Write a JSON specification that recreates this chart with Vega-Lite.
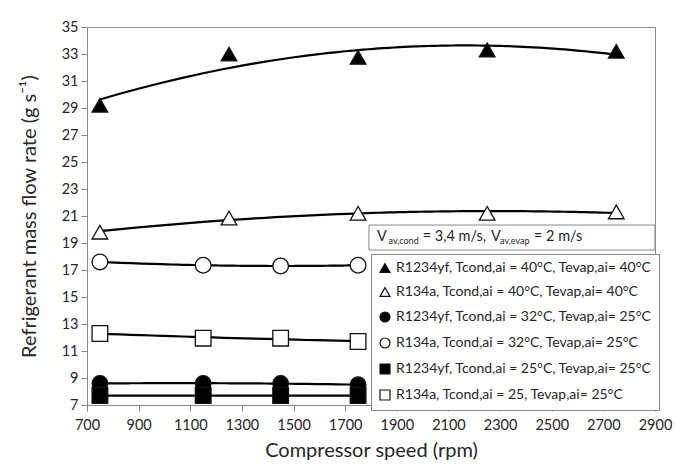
{
  "$schema": "https://vega.github.io/schema/vega-lite/v6.json",
  "autosize": "none",
  "width": 568,
  "height": 378,
  "padding": {"left": 87, "top": 27, "right": 22, "bottom": 67},
  "background": "white",
  "config": {
    "font": "Lato",
    "view": {"stroke": "#898989", "strokeWidth": 1},
    "axis": {
      "domainColor": "#898989",
      "tickColor": "#898989",
      "grid": false,
      "labelFont": "Lato",
      "labelFontSize": 14.5,
      "labelColor": "#262626",
      "labelOverlap": false,
      "labelFlush": false,
      "titleFont": "Lato",
      "titleFontSize": 20,
      "titleFontWeight": "normal",
      "titleColor": "#262626",
      "tickSize": 6
    },
    "legend": {
      "strokeColor": "#898989",
      "fillColor": "white",
      "padding": 7,
      "labelFont": "Lato",
      "labelFontSize": 14,
      "labelColor": "#262626",
      "symbolSize": 100,
      "symbolStrokeWidth": 1.2,
      "rowPadding": 10,
      "labelOffset": 4,
      "labelLimit": 400
    }
  },
  "datasets": {
    "points": [
      {"series": "R1234yf, Tcond,ai = 40°C, Tevap,ai= 40°C", "rpm": 750, "flow": 29.2},
      {"series": "R1234yf, Tcond,ai = 40°C, Tevap,ai= 40°C", "rpm": 1250, "flow": 33.0},
      {"series": "R1234yf, Tcond,ai = 40°C, Tevap,ai= 40°C", "rpm": 1750, "flow": 32.75},
      {"series": "R1234yf, Tcond,ai = 40°C, Tevap,ai= 40°C", "rpm": 2250, "flow": 33.3},
      {"series": "R1234yf, Tcond,ai = 40°C, Tevap,ai= 40°C", "rpm": 2750, "flow": 33.2},
      {"series": "R134a, Tcond,ai = 40°C, Tevap,ai= 40°C", "rpm": 750, "flow": 19.8},
      {"series": "R134a, Tcond,ai = 40°C, Tevap,ai= 40°C", "rpm": 1250, "flow": 20.85},
      {"series": "R134a, Tcond,ai = 40°C, Tevap,ai= 40°C", "rpm": 1750, "flow": 21.2},
      {"series": "R134a, Tcond,ai = 40°C, Tevap,ai= 40°C", "rpm": 2250, "flow": 21.2},
      {"series": "R134a, Tcond,ai = 40°C, Tevap,ai= 40°C", "rpm": 2750, "flow": 21.3},
      {"series": "R1234yf, Tcond,ai = 32°C, Tevap,ai= 25°C", "rpm": 750, "flow": 8.6},
      {"series": "R1234yf, Tcond,ai = 32°C, Tevap,ai= 25°C", "rpm": 1150, "flow": 8.6},
      {"series": "R1234yf, Tcond,ai = 32°C, Tevap,ai= 25°C", "rpm": 1450, "flow": 8.6},
      {"series": "R1234yf, Tcond,ai = 32°C, Tevap,ai= 25°C", "rpm": 1750, "flow": 8.5},
      {"series": "R134a, Tcond,ai = 32°C, Tevap,ai= 25°C", "rpm": 750, "flow": 17.6},
      {"series": "R134a, Tcond,ai = 32°C, Tevap,ai= 25°C", "rpm": 1150, "flow": 17.35},
      {"series": "R134a, Tcond,ai = 32°C, Tevap,ai= 25°C", "rpm": 1450, "flow": 17.3},
      {"series": "R134a, Tcond,ai = 32°C, Tevap,ai= 25°C", "rpm": 1750, "flow": 17.35},
      {"series": "R1234yf, Tcond,ai = 25°C, Tevap,ai= 25°C", "rpm": 750, "flow": 7.7},
      {"series": "R1234yf, Tcond,ai = 25°C, Tevap,ai= 25°C", "rpm": 1150, "flow": 7.7},
      {"series": "R1234yf, Tcond,ai = 25°C, Tevap,ai= 25°C", "rpm": 1450, "flow": 7.7},
      {"series": "R1234yf, Tcond,ai = 25°C, Tevap,ai= 25°C", "rpm": 1750, "flow": 7.7},
      {"series": "R134a, Tcond,ai = 25, Tevap,ai= 25°C", "rpm": 750, "flow": 12.3},
      {"series": "R134a, Tcond,ai = 25, Tevap,ai= 25°C", "rpm": 1150, "flow": 11.95},
      {"series": "R134a, Tcond,ai = 25, Tevap,ai= 25°C", "rpm": 1450, "flow": 11.95},
      {"series": "R134a, Tcond,ai = 25, Tevap,ai= 25°C", "rpm": 1750, "flow": 11.7}
    ],
    "notebox": [
      {"rpm": 1792, "rpm2": 2900, "flow": 18.48, "flow2": 20.33}
    ],
    "notemain": [
      {"rpm": 1823, "flow": 19.44, "txt": "V"},
      {"rpm": 2000, "flow": 19.44, "txt": "= 3,4 m/s,"},
      {"rpm": 2265, "flow": 19.44, "txt": "V"},
      {"rpm": 2431, "flow": 19.44, "txt": "= 2 m/s"}
    ],
    "notesub": [
      {"rpm": 1868, "flow": 19.44, "txt": "av,cond"},
      {"rpm": 2300, "flow": 19.44, "txt": "av,evap"}
    ]
  },
  "encoding": {
    "x": {
      "field": "rpm",
      "type": "quantitative",
      "scale": {"domain": [700, 2900], "nice": false, "zero": false},
      "axis": {
        "values": [700, 900, 1100, 1300, 1500, 1700, 1900, 2100, 2300, 2500, 2700, 2900],
        "format": "d",
        "labelOverlap": false,
        "title": "Compressor speed (rpm)",
        "labelPadding": 7,
        "titlePadding": 9
      }
    },
    "y": {
      "field": "flow",
      "type": "quantitative",
      "scale": {"domain": [7, 35], "nice": false, "zero": false},
      "axis": {
        "values": [7, 9, 11, 13, 15, 17, 19, 21, 23, 25, 27, 29, 31, 33, 35],
        "format": "d",
        "labelOverlap": false,
        "title": "Refrigerant mass flow rate (g s⁻¹)",
        "labelPadding": 3,
        "titlePadding": 22
      }
    }
  },
  "layer": [
    {
      "data": {"name": "points"},
      "transform": [
        {"regression": "flow", "on": "rpm", "groupby": ["series"], "method": "poly", "order": 2}
      ],
      "mark": {"type": "line", "color": "black", "strokeWidth": 2.2},
      "encoding": {
        "detail": {"field": "series"}
      }
    },
    {
      "data": {"name": "points"},
      "mark": {"type": "point", "strokeWidth": 1.3, "opacity": 1, "size": 245},
      "encoding": {
        "shape": {
          "field": "series",
          "type": "nominal",
          "scale": {
            "domain": [
              "R1234yf, Tcond,ai = 40°C, Tevap,ai= 40°C",
              "R134a, Tcond,ai = 40°C, Tevap,ai= 40°C",
              "R1234yf, Tcond,ai = 32°C, Tevap,ai= 25°C",
              "R134a, Tcond,ai = 32°C, Tevap,ai= 25°C",
              "R1234yf, Tcond,ai = 25°C, Tevap,ai= 25°C",
              "R134a, Tcond,ai = 25, Tevap,ai= 25°C"
            ],
            "range": ["triangle-up", "triangle-up", "circle", "circle", "square", "square"]
          },
          "legend": {"title": null, "orient": "none", "legendX": 284, "legendY": 227}
        },
        "fill": {
          "field": "series",
          "type": "nominal",
          "scale": {
            "domain": [
              "R1234yf, Tcond,ai = 40°C, Tevap,ai= 40°C",
              "R134a, Tcond,ai = 40°C, Tevap,ai= 40°C",
              "R1234yf, Tcond,ai = 32°C, Tevap,ai= 25°C",
              "R134a, Tcond,ai = 32°C, Tevap,ai= 25°C",
              "R1234yf, Tcond,ai = 25°C, Tevap,ai= 25°C",
              "R134a, Tcond,ai = 25, Tevap,ai= 25°C"
            ],
            "range": ["black", "white", "black", "white", "black", "white"]
          },
          "legend": {"title": null, "orient": "none", "legendX": 284, "legendY": 227}
        },
        "stroke": {
          "field": "series",
          "type": "nominal",
          "scale": {
            "domain": [
              "R1234yf, Tcond,ai = 40°C, Tevap,ai= 40°C",
              "R134a, Tcond,ai = 40°C, Tevap,ai= 40°C",
              "R1234yf, Tcond,ai = 32°C, Tevap,ai= 25°C",
              "R134a, Tcond,ai = 32°C, Tevap,ai= 25°C",
              "R1234yf, Tcond,ai = 25°C, Tevap,ai= 25°C",
              "R134a, Tcond,ai = 25, Tevap,ai= 25°C"
            ],
            "range": ["#111111", "#111111", "#111111", "#111111", "#111111", "#111111"]
          },
          "legend": {"title": null, "orient": "none", "legendX": 284, "legendY": 227}
        }
      }
    },
    {
      "data": {"name": "notebox"},
      "mark": {"type": "rect", "fill": "white", "stroke": "#898989", "strokeWidth": 1},
      "encoding": {
        "x2": {"field": "rpm2"},
        "y2": {"field": "flow2"}
      }
    },
    {
      "data": {"name": "notemain"},
      "mark": {"type": "text", "align": "left", "baseline": "middle", "fontSize": 14.5, "font": "Lato", "color": "#262626"},
      "encoding": {
        "text": {"field": "txt"}
      }
    },
    {
      "data": {"name": "notesub"},
      "mark": {"type": "text", "align": "left", "baseline": "middle", "fontSize": 9, "font": "Lato", "color": "#262626", "dy": 4},
      "encoding": {
        "text": {"field": "txt"}
      }
    }
  ]
}
